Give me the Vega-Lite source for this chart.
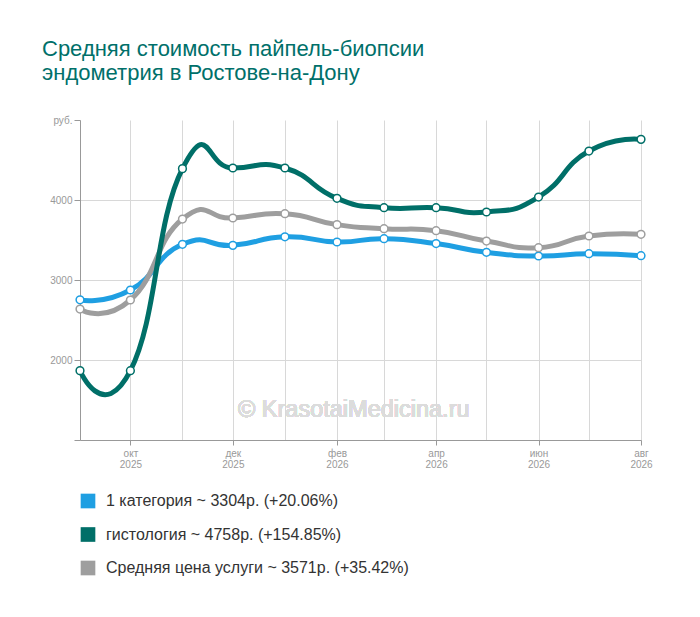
{
  "$schema": "https://vega.github.io/schema/vega-lite/v6.json",
  "autosize": "none",
  "width": 561,
  "height": 320,
  "padding": {"left": 80, "top": 120, "right": 59, "bottom": 177},
  "background": "white",
  "title": {
    "text": ["Средняя стоимость пайпель-биопсии", "эндометрия в Ростове-на-Дону"],
    "anchor": "start",
    "frame": "group",
    "dx": -38,
    "offset": 30,
    "font": "Liberation Sans",
    "fontSize": 22,
    "fontWeight": "normal",
    "color": "#00706a",
    "lineHeight": 24
  },
  "config": {
    "view": {"stroke": null},
    "font": "Liberation Sans"
  },
  "data": {
    "values": [
      {"date": "2025-09-01", "series": "1 категория ~ 3304р. (+20.06%)", "value": 2752},
      {"date": "2025-10-01", "series": "1 категория ~ 3304р. (+20.06%)", "value": 2875},
      {"date": "2025-11-01", "series": "1 категория ~ 3304р. (+20.06%)", "value": 3446},
      {"date": "2025-12-01", "series": "1 категория ~ 3304р. (+20.06%)", "value": 3433},
      {"date": "2026-01-01", "series": "1 категория ~ 3304р. (+20.06%)", "value": 3540},
      {"date": "2026-02-01", "series": "1 категория ~ 3304р. (+20.06%)", "value": 3475},
      {"date": "2026-03-01", "series": "1 категория ~ 3304р. (+20.06%)", "value": 3516},
      {"date": "2026-04-01", "series": "1 категория ~ 3304р. (+20.06%)", "value": 3455},
      {"date": "2026-05-01", "series": "1 категория ~ 3304р. (+20.06%)", "value": 3346},
      {"date": "2026-06-01", "series": "1 категория ~ 3304р. (+20.06%)", "value": 3300},
      {"date": "2026-07-01", "series": "1 категория ~ 3304р. (+20.06%)", "value": 3329},
      {"date": "2026-08-01", "series": "1 категория ~ 3304р. (+20.06%)", "value": 3304},
      {"date": "2025-09-01", "series": "Средняя цена услуги ~ 3571р. (+35.42%)", "value": 2637},
      {"date": "2025-10-01", "series": "Средняя цена услуги ~ 3571р. (+35.42%)", "value": 2750},
      {"date": "2025-11-01", "series": "Средняя цена услуги ~ 3571р. (+35.42%)", "value": 3762},
      {"date": "2025-12-01", "series": "Средняя цена услуги ~ 3571р. (+35.42%)", "value": 3775},
      {"date": "2026-01-01", "series": "Средняя цена услуги ~ 3571р. (+35.42%)", "value": 3829},
      {"date": "2026-02-01", "series": "Средняя цена услуги ~ 3571р. (+35.42%)", "value": 3692},
      {"date": "2026-03-01", "series": "Средняя цена услуги ~ 3571р. (+35.42%)", "value": 3641},
      {"date": "2026-04-01", "series": "Средняя цена услуги ~ 3571р. (+35.42%)", "value": 3616},
      {"date": "2026-05-01", "series": "Средняя цена услуги ~ 3571р. (+35.42%)", "value": 3487},
      {"date": "2026-06-01", "series": "Средняя цена услуги ~ 3571р. (+35.42%)", "value": 3404},
      {"date": "2026-07-01", "series": "Средняя цена услуги ~ 3571р. (+35.42%)", "value": 3550},
      {"date": "2026-08-01", "series": "Средняя цена услуги ~ 3571р. (+35.42%)", "value": 3571},
      {"date": "2025-09-01", "series": "гистология ~ 4758р. (+154.85%)", "value": 1867},
      {"date": "2025-10-01", "series": "гистология ~ 4758р. (+154.85%)", "value": 1866},
      {"date": "2025-11-01", "series": "гистология ~ 4758р. (+154.85%)", "value": 4392},
      {"date": "2025-12-01", "series": "гистология ~ 4758р. (+154.85%)", "value": 4400},
      {"date": "2026-01-01", "series": "гистология ~ 4758р. (+154.85%)", "value": 4400},
      {"date": "2026-02-01", "series": "гистология ~ 4758р. (+154.85%)", "value": 4021},
      {"date": "2026-03-01", "series": "гистология ~ 4758р. (+154.85%)", "value": 3904},
      {"date": "2026-04-01", "series": "гистология ~ 4758р. (+154.85%)", "value": 3904},
      {"date": "2026-05-01", "series": "гистология ~ 4758р. (+154.85%)", "value": 3850},
      {"date": "2026-06-01", "series": "гистология ~ 4758р. (+154.85%)", "value": 4037},
      {"date": "2026-07-01", "series": "гистология ~ 4758р. (+154.85%)", "value": 4612},
      {"date": "2026-08-01", "series": "гистология ~ 4758р. (+154.85%)", "value": 4758}
    ]
  },
  "encoding": {
    "x": {
      "field": "date",
      "type": "temporal",
      "scale": {"domain": [{"year": 2025, "month": 9, "date": 1}, {"year": 2026, "month": 8, "date": 1}]},
      "axis": {
        "title": null,
        "values": [
          {"year": 2025, "month": 9, "date": 1}, {"year": 2025, "month": 10, "date": 1},
          {"year": 2025, "month": 11, "date": 1}, {"year": 2025, "month": 12, "date": 1},
          {"year": 2026, "month": 1, "date": 1}, {"year": 2026, "month": 2, "date": 1},
          {"year": 2026, "month": 3, "date": 1}, {"year": 2026, "month": 4, "date": 1},
          {"year": 2026, "month": 5, "date": 1}, {"year": 2026, "month": 6, "date": 1},
          {"year": 2026, "month": 7, "date": 1}, {"year": 2026, "month": 8, "date": 1}
        ],
        "labelExpr": "month(datum.value) % 2 == 1 ? [['янв','фев','мар','апр','май','июн','июл','авг','сен','окт','ноя','дек'][month(datum.value)], '' + year(datum.value)] : ''",
        "labelFontSize": 10,
        "labelColor": "#999999",
        "labelLineHeight": 11,
        "labelPadding": 3,
        "labelFlush": false,
        "labelOverlap": false,
        "tickColor": "#999999",
        "tickSize": 5,
        "tickOpacity": {"condition": {"test": "month(datum.value) % 2 == 1", "value": 1}, "value": 0},
        "domainColor": "#999999",
        "grid": true,
        "gridColor": "#d8d8d8",
        "gridWidth": 1
      }
    },
    "y": {
      "field": "value",
      "type": "quantitative",
      "scale": {"domain": [1000, 5000], "nice": false, "zero": false},
      "axis": {
        "title": null,
        "values": [1000, 2000, 3000, 4000, 5000],
        "labelExpr": "datum.value == 5000 ? 'руб.' : (datum.value == 1000 ? '' : format(datum.value, 'd'))",
        "labelFontSize": 10,
        "labelColor": "#999999",
        "labelPadding": 2,
        "tickColor": "#999999",
        "tickSize": 6,
        "domainColor": "#999999",
        "grid": true,
        "gridColor": "#d8d8d8",
        "gridOpacity": {"condition": {"test": "datum.value == 5000 || datum.value == 1000", "value": 0}, "value": 1}
      }
    },
    "color": {
      "field": "series",
      "type": "nominal",
      "scale": {
        "domain": ["1 категория ~ 3304р. (+20.06%)", "гистология ~ 4758р. (+154.85%)", "Средняя цена услуги ~ 3571р. (+35.42%)"],
        "range": ["#1f9fe2", "#006f68", "#9e9e9e"]
      },
      "legend": {
        "title": null,
        "orient": "none",
        "legendX": 0,
        "legendY": 373,
        "direction": "vertical",
        "symbolType": "square",
        "symbolSize": 215,
        "symbolStrokeWidth": 0,
        "symbolOpacity": 1,
        "labelFontSize": 16,
        "labelColor": "#333333",
        "labelOffset": 10,
        "rowPadding": 17.5,
        "labelLimit": 500
      }
    }
  },
  "layer": [
    {
      "mark": {"type": "text", "fontSize": 23.5, "align": "center", "baseline": "middle"},
      "encoding": {
        "x": {"datum": {"year": 2026, "month": 2, "date": 11}, "type": "temporal"},
        "y": {"datum": 1370, "type": "quantitative"},
        "text": {"value": "© KrasotaiMedicina.ru"},
        "color": {"value": "#dcdcdc"}
      }
    },
    {
      "mark": {"type": "line", "interpolate": "cardinal", "tension": -0.6, "strokeWidth": 5}
    },
    {
      "mark": {"type": "point", "filled": true, "fill": "white", "size": 60, "strokeWidth": 1.5, "opacity": 1},
      "encoding": {
        "stroke": {"field": "series", "type": "nominal", "scale": {
          "domain": ["1 категория ~ 3304р. (+20.06%)", "гистология ~ 4758р. (+154.85%)", "Средняя цена услуги ~ 3571р. (+35.42%)"],
          "range": ["#1f9fe2", "#006f68", "#9e9e9e"]}, "legend": null}
      }
    }
  ]
}
